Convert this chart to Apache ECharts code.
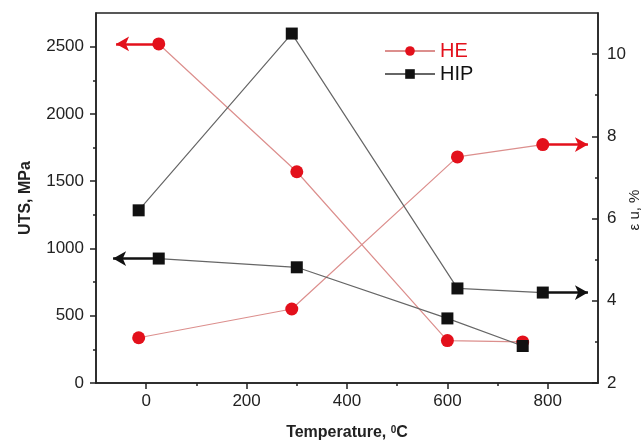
<!DOCTYPE html>
<html><head><meta charset="utf-8">
<script src="https://cdn.jsdelivr.net/npm/echarts@6/dist/echarts.min.js"></script>
<style>html,body{margin:0;padding:0;background:#fff}#c{width:644px;height:446px}</style>
</head><body><div id="c"></div>
<script>
// Data
const heTempUTS = [25, 300, 600, 750];
const heUTS = [2520, 1570, 315, 305];
const heTempElong = [-15, 290, 620, 790];
const heElong = [3.1, 3.8, 7.5, 7.8];
const hipTempUTS = [25, 300, 600, 750];
const hipUTS = [925, 860, 480, 275];
const hipTempElong = [-15, 290, 620, 790];
const hipElong = [6.2, 10.5, 4.3, 4.2];
// Ticks
const xTicks = [0, 200, 400, 600, 800];
const xMinor = [100, 300, 500, 700];
const utsTicks = [0, 500, 1000, 1500, 2000, 2500];
const utsMinor = [250, 750, 1250, 1750, 2250];
const elongTicks = [2, 4, 6, 8, 10];
const elongMinor = [3, 5, 7, 9];
// Arrow tips (annotations, in temperature units)
const leftArrowTip = -60;
const rightArrowTip = 880;

const FONT = 'Liberation Sans, Arial, Helvetica, sans-serif';
const RED = '#e3101b';
const RED_LINE = '#dc8f8d';
const BLACK = '#111';
const GRAY_LINE = '#666';

function pts(xs, ys) { return xs.map((x, i) => [x, ys[i]]); }
function arrow(x0, y0, x1, color) {
  return {
    silent: true, animation: false,
    symbol: ['none', 'arrow'], symbolSize: [11, 13],
    label: { show: false },
    lineStyle: { color: color, width: 2.5, type: 'solid' },
    emphasis: { disabled: true },
    data: [[{ coord: [x0, y0] }, { coord: [x1, y0] }]]
  };
}

const chart = echarts.init(document.getElementById('c'), null, { renderer: 'canvas' });
const axisLine = { show: true, onZero: false, lineStyle: { color: '#222', width: 1.5 } };
const noLine = { show: false, onZero: false };
const labelStyle = { fontFamily: FONT, fontSize: 17, color: '#222', formatter: v => String(v) };

chart.setOption({
  animation: false,
  backgroundColor: '#fff',
  textStyle: { fontFamily: FONT },
  grid: { left: 96, right: 46, top: 13, bottom: 63, show: true, borderColor: '#222', borderWidth: 1.5, backgroundColor: 'transparent' },
  legend: {
    orient: 'vertical', left: 379, top: 36, itemWidth: 50, itemHeight: 12, itemGap: 3,
    selectedMode: false,
    textStyle: { fontFamily: FONT, fontSize: 20, color: BLACK },
    data: [{ name: 'HE', textStyle: { color: RED } }, { name: 'HIP', textStyle: { color: BLACK } }]
  },
  graphic: [{
    type: 'text', x: 635, y: 210, rotation: Math.PI / 2, silent: true,
    style: { text: 'ε u, %', fontFamily: FONT, fontSize: 15, fill: '#222', align: 'center', verticalAlign: 'middle' }
  }],
  xAxis: [
    {
      type: 'value', min: -100, max: 900, position: 'bottom',
      axisLine: axisLine,
      axisTick: { show: true, inside: false, length: 6, customValues: xTicks, lineStyle: { color: '#222', width: 1.5 } },
      axisLabel: Object.assign({ customValues: xTicks, margin: 10 }, labelStyle),
      splitLine: { show: false },
      name: '{a|Temperature, }{s|0}{a|C}', nameLocation: 'middle', nameGap: 42,
      nameTextStyle: { rich: {
        a: { fontFamily: FONT, fontSize: 16, fontWeight: 'bold', color: '#222' },
        s: { fontFamily: FONT, fontSize: 10, fontWeight: 'bold', color: '#222', verticalAlign: 'top' }
      } }
    },
    {
      type: 'value', min: -100, max: 900, position: 'bottom',
      axisLine: noLine,
      axisTick: { show: true, inside: false, length: 3, customValues: xMinor, lineStyle: { color: '#222', width: 1.5 } },
      axisLabel: { show: false }, splitLine: { show: false }
    }
  ],
  yAxis: [
    {
      type: 'value', min: 0, max: 2750, position: 'left',
      axisLine: axisLine,
      axisTick: { show: true, inside: false, length: 6, customValues: utsTicks, lineStyle: { color: '#222', width: 1.5 } },
      axisLabel: Object.assign({ customValues: utsTicks, margin: 12 }, labelStyle),
      splitLine: { show: false },
      name: 'UTS, MPa', nameLocation: 'middle', nameGap: 62, nameRotate: 90,
      nameTextStyle: { fontFamily: FONT, fontSize: 16, fontWeight: 'bold', color: '#222' }
    },
    {
      type: 'value', min: 2, max: 11, position: 'right',
      axisLine: axisLine,
      axisTick: { show: true, inside: true, length: 6, customValues: elongTicks, lineStyle: { color: '#222', width: 1.5 } },
      axisLabel: Object.assign({ customValues: elongTicks, margin: 9 }, labelStyle),
      splitLine: { show: false }
    },
    {
      type: 'value', min: 0, max: 2750, position: 'left',
      axisLine: noLine,
      axisTick: { show: true, inside: false, length: 3, customValues: utsMinor, lineStyle: { color: '#222', width: 1.5 } },
      axisLabel: { show: false }, splitLine: { show: false }
    },
    {
      type: 'value', min: 2, max: 11, position: 'right',
      axisLine: noLine,
      axisTick: { show: true, inside: true, length: 3, customValues: elongMinor, lineStyle: { color: '#222', width: 1.5 } },
      axisLabel: { show: false }, splitLine: { show: false }
    }
  ],
  series: [
    {
      name: 'HE', type: 'line', xAxisIndex: 0, yAxisIndex: 0,
      data: pts(heTempUTS, heUTS),
      symbol: 'circle', symbolSize: 13,
      itemStyle: { color: RED }, lineStyle: { color: RED_LINE, width: 1.2 },
      markLine: arrow(heTempUTS[0], heUTS[0], leftArrowTip, RED), z: 2
    },
    {
      name: 'HE', type: 'line', xAxisIndex: 0, yAxisIndex: 1,
      data: pts(heTempElong, heElong),
      symbol: 'circle', symbolSize: 13,
      itemStyle: { color: RED }, lineStyle: { color: RED_LINE, width: 1.2 },
      markLine: arrow(heTempElong[3], heElong[3], rightArrowTip, RED), z: 2
    },
    {
      name: 'HIP', type: 'line', xAxisIndex: 0, yAxisIndex: 0,
      data: pts(hipTempUTS, hipUTS),
      symbol: 'rect', symbolSize: 12,
      itemStyle: { color: BLACK }, lineStyle: { color: GRAY_LINE, width: 1.2 },
      markLine: arrow(hipTempUTS[0], hipUTS[0], leftArrowTip - 6, BLACK), z: 3
    },
    {
      name: 'HIP', type: 'line', xAxisIndex: 0, yAxisIndex: 1,
      data: pts(hipTempElong, hipElong),
      symbol: 'rect', symbolSize: 12,
      itemStyle: { color: BLACK }, lineStyle: { color: GRAY_LINE, width: 1.2 },
      markLine: arrow(hipTempElong[3], hipElong[3], rightArrowTip, BLACK), z: 3
    }
  ]
});
</script>
</body></html>
